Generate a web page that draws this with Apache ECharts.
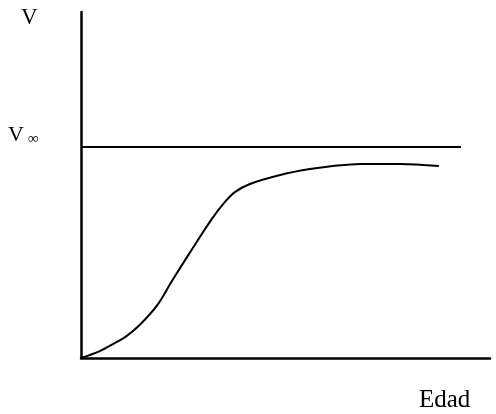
<!DOCTYPE html>
<html>
<head>
<meta charset="utf-8">
<style>
  html, body { margin: 0; padding: 0; background: #fff; }
  #chart { width: 496px; height: 414px; }
</style>
<script src="https://cdn.jsdelivr.net/npm/echarts@6/dist/echarts.min.js"></script>
</head>
<body>
<div id="chart"></div>
<script>
// Growth curve: volume against age, approaching the asymptote V∞
const ageValues = [0, 4.6, 7.8, 11.2, 14.4, 18.6, 22.2, 26.7, 32.0, 35.2, 37.7, 41.3, 48.7, 56.0, 61.6, 68.2, 78.0, 87.5];
const volumeValues = [0, 2.0, 4.0, 6.4, 9.6, 15.2, 22.2, 30.6, 40.2, 45.1, 48.0, 50.3, 52.9, 54.6, 55.5, 56.1, 56.1, 55.5];
const asymptoteAges = [0, 92.9];
const asymptoteValue = 61.0;
const axisNames = { x: 'Edad', y: 'V', limit: 'V', limitSub: '∞' };

const chart = echarts.init(document.getElementById('chart'));
const font = '"Liberation Serif", "Times New Roman", serif';

const axisCommon = {
  type: 'value',
  min: 0,
  max: 100,
  axisLine: { show: true, onZero: false, lineStyle: { color: '#000', width: 2.5 } },
  axisTick: { show: false },
  axisLabel: { show: false },
  splitLine: { show: false }
};

chart.setOption({
  animation: false,
  grid: { left: 81, top: 12, width: 409, height: 346 },
  xAxis: axisCommon,
  yAxis: axisCommon,
  series: [
    {
      type: 'line',
      data: asymptoteAges.map(a => [a, asymptoteValue]),
      showSymbol: false,
      lineStyle: { color: '#000', width: 2 }
    },
    {
      type: 'line',
      data: ageValues.map((a, i) => [a, volumeValues[i]]),
      smooth: 0.35,
      showSymbol: false,
      lineStyle: { color: '#000', width: 2 }
    }
  ],
  graphic: [
    {
      type: 'text', left: 21, top: 6,
      style: { text: axisNames.y, font: '23px ' + font, fill: '#000' }
    },
    {
      type: 'text', left: 8, top: 124,
      style: {
        text: '{v|' + axisNames.limit + '}{s|' + axisNames.limitSub + '}',
        rich: {
          v: { font: '22px ' + font, fill: '#000' },
          s: { font: '15px ' + font, fill: '#000', verticalAlign: 'bottom', padding: [8, 0, 0, 4] }
        },
        fill: '#000'
      }
    },
    {
      type: 'text', left: 419, top: 388,
      style: { text: axisNames.x, font: '25px ' + font, fill: '#000' }
    }
  ]
});
</script>
</body>
</html>
